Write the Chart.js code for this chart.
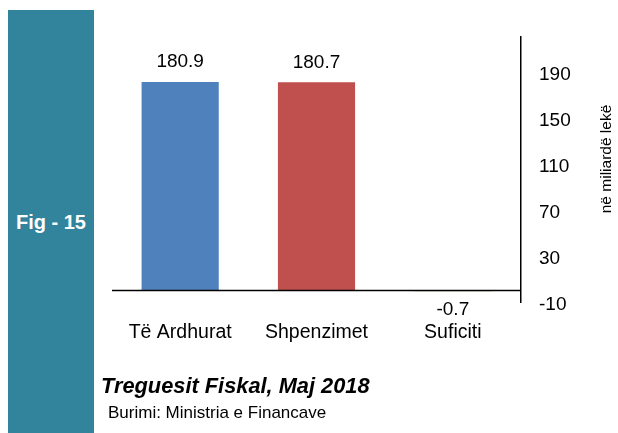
<!DOCTYPE html>
<html>
<head>
<meta charset="utf-8">
<script src="https://cdn.jsdelivr.net/npm/chart.js@4/dist/chart.umd.min.js"></script>
<style>
    html, body { margin: 0; padding: 0; background: #fff; }
    body { width: 618px; height: 433px; position: relative; overflow: hidden; font-family: 'Liberation Sans', Arial, sans-serif; }
    #panel { position: absolute; left: 8px; top: 10px; width: 86px; height: 423px; background: #31849B; }
    #fig { position: absolute; left: 0; width: 86px; top: 201px; text-align: center; color: #fff; font-weight: bold; font-size: 20px; font-family: 'Liberation Sans Narrow', 'Liberation Sans', Arial, sans-serif; }
    #title { position: absolute; left: 101px; top: 373px; font-size: 21.8px; font-weight: bold; font-style: italic; color: #000; white-space: nowrap; }
    #source { position: absolute; left: 108px; top: 403px; font-size: 17px; color: #000; white-space: nowrap; }
    #chart { position: absolute; left: 0; top: 0; }
</style>
</head>
<body>
<div id="panel"><div id="fig">Fig - 15</div></div>
<canvas id="chart" width="618" height="433"></canvas>
<div id="title">Treguesit Fiskal, Maj 2018</div>
<div id="source">Burimi: Ministria e Financave</div>
<script>
// te dhenat
const categories = ['Të Ardhurat', 'Shpenzimet', 'Suficiti'];
const values = [180.9, 180.7, -0.7];
const barColors = ['#4F81BD', '#C0504D', '#9BBB59'];
const tickValues = [-10, 30, 70, 110, 150, 190];
const axisTitle = 'në miliardë lekë';

const FONT = "'Liberation Sans', Arial, sans-serif";

// vija e zeros, vlerat mbi shtyllat dhe titulli i boshtit
const extras = {
    id: 'extras',
    afterDatasetsDraw(chart) {
        const ctx = chart.ctx;
        const area = chart.chartArea;
        const y0 = chart.scales.y.getPixelForValue(0);
        ctx.save();
        ctx.strokeStyle = '#000';
        ctx.lineWidth = 1.5;
        ctx.beginPath();
        ctx.moveTo(area.left, y0);
        ctx.lineTo(area.right, y0);
        ctx.stroke();

        ctx.fillStyle = '#000';
        ctx.font = '19px ' + FONT;
        ctx.textAlign = 'center';
        ctx.textBaseline = 'middle';
        chart.getDatasetMeta(0).data.forEach((bar, i) => {
            const v = values[i];
            const y = v >= 0 ? bar.y - 20 : bar.y + 18;
            ctx.fillText(v.toFixed(1), bar.x, y);
        });
        ctx.restore();
    },
    afterDraw(chart) {
        const ctx = chart.ctx;
        ctx.save();
        ctx.fillStyle = '#000';
        ctx.font = '15.5px ' + FONT;
        ctx.textAlign = 'center';
        ctx.textBaseline = 'middle';
        ctx.translate(607, 159);
        ctx.rotate(-Math.PI / 2);
        ctx.fillText(axisTitle, 0, 0);
        ctx.restore();
    }
};

window.onload = () => {
    var ctx = document.getElementById('chart').getContext('2d');
    new Chart(ctx, {
        type: 'bar',
        data: {
            labels: categories,
            datasets: [{
                data: values,
                backgroundColor: barColors,
                borderWidth: 0,
                barPercentage: 0.566,
                categoryPercentage: 1
            }]
        },
        options: {
            responsive: false,
            animation: false,
            layout: { padding: { left: 112, top: 37, right: 0, bottom: 0 } },
            plugins: {
                legend: { display: false },
                tooltip: { enabled: false }
            },
            scales: {
                x: {
                    grid: { display: false },
                    border: { display: false },
                    ticks: { color: '#000', font: { family: FONT, size: 19.5 }, padding: 11, maxRotation: 0 },
                    afterFit: (s) => { s.height = 131; }
                },
                y: {
                    position: 'right',
                    min: -10,
                    max: 220,
                    grid: { display: false, drawTicks: false },
                    border: { display: true, color: '#000', width: 1.5 },
                    ticks: { color: '#000', font: { family: FONT, size: 19 }, padding: 18, labelOffset: 3 },
                    afterBuildTicks: (s) => { s.ticks = tickValues.map(v => ({ value: v })); },
                    afterFit: (s) => { s.width = 97; }
                }
            }
        },
        plugins: [extras]
    });
};
</script>
</body>
</html>
